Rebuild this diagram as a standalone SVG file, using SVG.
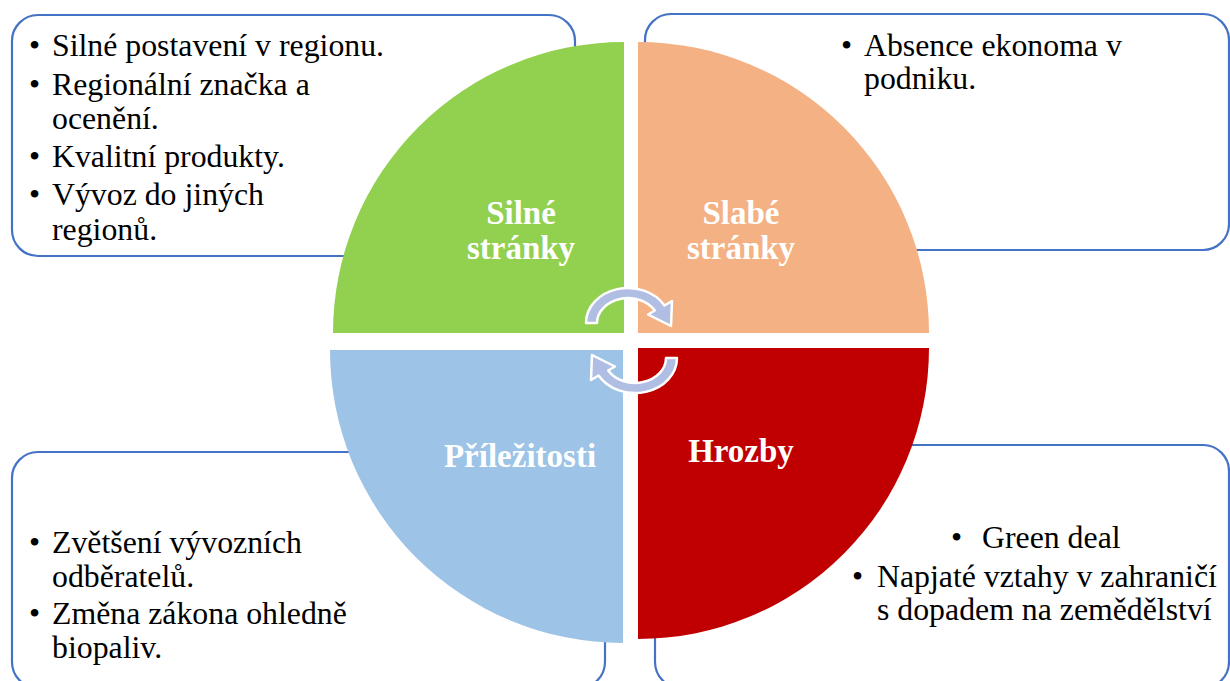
<svg xmlns="http://www.w3.org/2000/svg" xmlns:xlink="http://www.w3.org/1999/xlink" width="1230" height="681" viewBox="0 0 1230 681">
<style>
.box{fill:#fff;stroke:#4472C4;stroke-width:2.2}
.t{font-family:"Liberation Serif","Times New Roman",serif;font-size:31.8px;fill:#000}
.lab{font-family:"Liberation Serif","Times New Roman",serif;font-size:33px;font-weight:bold;fill:#fff;text-anchor:middle}
.arr{fill:#B1BEE3;stroke:#fff;stroke-width:2.5;stroke-linejoin:round}
</style>
<defs>
<path id="carrow" d="M586,323 A42,35 0 0 1 664.4,305.5 L672,301 L671,326 L648,314.5 L654.8,310.5 A31,25 0 0 0 597,323 Z"/>
</defs>
<rect width="1230" height="681" fill="#fff"/>
<g id="box-tl"><rect class="box" x="12" y="15" width="563" height="241" rx="26"/>
<text class="t"><tspan x="29" y="56">•</tspan><tspan x="52" y="56">Silné postavení v regionu.</tspan>
<tspan x="29" y="95">•</tspan><tspan x="52" y="95">Regionální značka a</tspan>
<tspan x="52" y="129">ocenění.</tspan>
<tspan x="29" y="167">•</tspan><tspan x="52" y="167">Kvalitní produkty.</tspan>
<tspan x="29" y="205">•</tspan><tspan x="52" y="205">Vývoz do jiných</tspan>
<tspan x="52" y="240">regionů.</tspan></text></g>
<g id="box-tr"><rect class="box" x="645" y="14" width="584" height="236" rx="26"/>
<text class="t"><tspan x="841" y="56">•</tspan><tspan x="864" y="56">Absence ekonoma v</tspan>
<tspan x="864" y="89">podniku.</tspan></text></g>
<g id="box-bl"><rect class="box" x="12" y="452" width="593" height="236" rx="26"/>
<text class="t"><tspan x="29" y="553">•</tspan><tspan x="52" y="553">Zvětšení vývozních</tspan>
<tspan x="52" y="587">odběratelů.</tspan>
<tspan x="29" y="624">•</tspan><tspan x="52" y="624">Změna zákona ohledně</tspan>
<tspan x="52" y="658">biopaliv.</tspan></text></g>
<g id="box-br"><rect class="box" x="655" y="445" width="574" height="243" rx="26"/>
<text class="t"><tspan x="951" y="548">•</tspan><tspan x="982" y="548">Green deal</tspan>
<tspan x="852" y="587">•</tspan><tspan x="877" y="587">Napjaté vztahy v zahraničí</tspan>
<tspan x="877" y="620">s dopadem na zemědělství</tspan></text></g>
<g id="q-silne"><path d="M624,333 L333,333 A291,291 0 0 1 624,42 Z" fill="#92D050"/>
<text class="lab"><tspan x="521" y="224">Silné</tspan><tspan x="521" y="259">stránky</tspan></text></g>
<g id="q-slabe"><path d="M638,333 L638,42 A291,291 0 0 1 929,333 Z" fill="#F4B183"/>
<text class="lab"><tspan x="741" y="224">Slabé</tspan><tspan x="741" y="259">stránky</tspan></text></g>
<g id="q-prilezitosti"><path d="M623,350 L623,643 A293,293 0 0 1 330,350 Z" fill="#9DC3E6"/>
<text class="lab" x="520" y="467">Příležitosti</text></g>
<g id="q-hrozby"><path d="M638,348 L929,348 A291,291 0 0 1 638,639 Z" fill="#C00000"/>
<text class="lab" x="741" y="462">Hrozby</text></g>
<g id="connectors">
<use xlink:href="#carrow" class="arr"/>
<use xlink:href="#carrow" class="arr" transform="rotate(180 631.5 340.5)"/>
</g>
</svg>
